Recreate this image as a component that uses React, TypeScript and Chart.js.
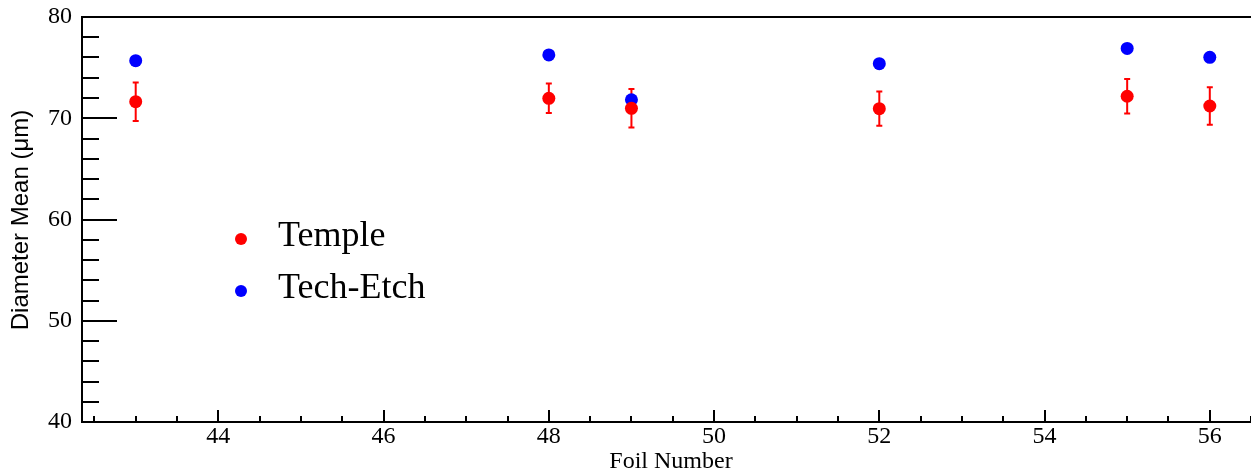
import React, { useEffect, useRef } from "react";
import { Chart, registerables } from "chart.js";

Chart.register(...registerables);

const foils = [43, 48, 49, 52, 55, 56];
const templeMean = [71.64, 71.97, 70.98, 70.95, 72.17, 71.21];
const templeErr = [1.9, 1.45, 1.9, 1.7, 1.7, 1.85];
const techEtchMean = [75.69, 76.25, 71.83, 75.39, 76.9, 76.02];
const seriesNames = ["Temple", "Tech-Etch"];
const seriesColors = ["#ff0000", "#0000ff"];
const xTitle = "Foil Number";
const yTitle = "Diameter Mean (\u03bcm)";

const SERIF = '"Liberation Serif", "Times New Roman", serif';
const SANS = '"Liberation Sans", Arial, sans-serif';

const rootPlugin = {
  id: "rootStyle",
  beforeDatasetsDraw(chart: any) {
    const ctx = chart.ctx;
    const xs = chart.scales.x;
    const ys = chart.scales.y;
    ctx.save();
    ctx.strokeStyle = seriesColors[0];
    ctx.lineWidth = 2;
    foils.forEach((f, i) => {
      const px = xs.getPixelForValue(f);
      const top = ys.getPixelForValue(templeMean[i] + templeErr[i]);
      const bot = ys.getPixelForValue(templeMean[i] - templeErr[i]);
      ctx.beginPath();
      ctx.moveTo(px, top);
      ctx.lineTo(px, bot);
      ctx.moveTo(px - 3, top);
      ctx.lineTo(px + 3, top);
      ctx.moveTo(px - 3, bot);
      ctx.lineTo(px + 3, bot);
      ctx.stroke();
    });
    ctx.restore();
  },
  afterDraw(chart: any) {
    const ctx = chart.ctx;
    const xs = chart.scales.x;
    const ys = chart.scales.y;
    const a = chart.chartArea;
    ctx.save();
    ctx.strokeStyle = "#000";
    ctx.lineWidth = 2;
    // frame
    ctx.beginPath();
    ctx.moveTo(a.left, a.top);
    ctx.lineTo(a.right, a.top);
    ctx.lineTo(a.right, a.bottom);
    ctx.lineTo(a.left, a.bottom);
    ctx.closePath();
    ctx.stroke();
    // y ticks
    ctx.beginPath();
    for (let v = ys.min; v <= ys.max + 1e-6; v += 2) {
      const py = Math.round(ys.getPixelForValue(v));
      const major = Math.abs(v % 10) < 1e-6;
      const len = major ? 35 : 17;
      ctx.moveTo(a.left, py);
      ctx.lineTo(a.left + len, py);
    }
    // x ticks
    const start = Math.ceil(xs.min * 2) / 2;
    for (let v = start; v <= xs.max + 1e-6; v += 0.5) {
      const px = Math.round(xs.getPixelForValue(v));
      const major = Math.abs(v % 2) < 1e-6;
      const len = major ? 12 : 6;
      ctx.moveTo(px, a.bottom);
      ctx.lineTo(px, a.bottom - len);
    }
    ctx.stroke();

    // axis titles
    ctx.fillStyle = "#000";
    ctx.font = "24px " + SERIF;
    ctx.textAlign = "center";
    ctx.textBaseline = "alphabetic";
    ctx.fillText(xTitle, 671, 468);
    ctx.save();
    ctx.translate(28, 220);
    ctx.rotate(-Math.PI / 2);
    ctx.font = "24px " + SANS;
    ctx.fillText(yTitle, 0, 0);
    ctx.restore();

    // legend
    const legendY = [239, 291];
    seriesNames.forEach((name, i) => {
      ctx.fillStyle = seriesColors[i];
      ctx.beginPath();
      ctx.arc(241, legendY[i], 6, 0, Math.PI * 2);
      ctx.fill();
      ctx.fillStyle = "#000";
      ctx.font = "36px " + SERIF;
      ctx.textAlign = "left";
      ctx.textBaseline = "middle";
      ctx.fillText(name, 278, legendY[i] - 2);
    });
    ctx.restore();
  },
};

export default function App() {
  const ref = useRef<HTMLCanvasElement>(null);
  useEffect(() => {
    document.body.style.margin = "0";
    document.body.style.overflow = "hidden";
    const chart = new Chart(ref.current as HTMLCanvasElement, {
      type: "scatter",
      data: {
        datasets: [
          {
            label: seriesNames[0],
            data: foils.map((f, i) => ({ x: f, y: templeMean[i] })),
            backgroundColor: seriesColors[0],
            borderColor: seriesColors[0],
            pointRadius: 6.5,
            pointBorderWidth: 0,
          },
          {
            label: seriesNames[1],
            data: foils.map((f, i) => ({ x: f, y: techEtchMean[i] })),
            backgroundColor: seriesColors[1],
            borderColor: seriesColors[1],
            pointRadius: 6.5,
            pointBorderWidth: 0,
          },
        ],
      },
      options: {
        animation: false,
        responsive: false,
        maintainAspectRatio: false,
        layout: { padding: { top: 17, right: 3, left: 0, bottom: 0 } },
        plugins: { legend: { display: false }, tooltip: { enabled: false } },
        scales: {
          x: {
            type: "linear",
            min: 42.35,
            max: 56.65,
            grid: { display: false, drawTicks: false },
            border: { display: false },
            ticks: {
              stepSize: 2,
              includeBounds: false,
              autoSkip: false,
              maxRotation: 0,
              padding: 0,
              color: "#000",
              font: { family: SERIF, size: 24 },
              callback: (v: any) => String(v),
            },
            afterFit: (s: any) => {
              s.height = 46;
              s.paddingLeft = 0;
              s.paddingRight = 0;
            },
          },
          y: {
            type: "linear",
            min: 40,
            max: 80,
            grid: { display: false, drawTicks: false },
            border: { display: false },
            ticks: {
              stepSize: 10,
              padding: 10,
              color: "#000",
              font: { family: SERIF, size: 24 },
            },
            afterFit: (s: any) => {
              s.width = 82;
              s.paddingTop = 0;
              s.paddingBottom = 0;
            },
          },
        },
      },
      plugins: [rootPlugin],
    } as any);
    return () => chart.destroy();
  }, []);
  return (
    <div style={{ width: 1251, height: 468, overflow: "hidden" }}>
      <canvas ref={ref} width={1270} height={468} style={{ display: "block" }} />
    </div>
  );
}
